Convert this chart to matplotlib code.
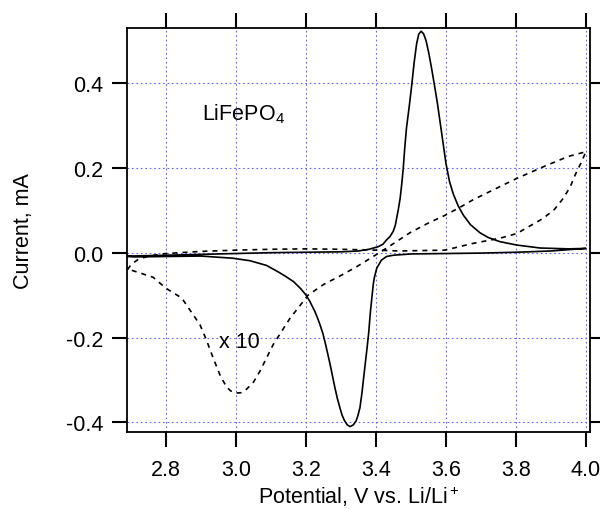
from matplotlib import pyplot as plt

plt.rcParams['font.family'] = ['Liberation Sans', 'DejaVu Sans']
plt.rcParams['mathtext.default'] = 'regular'

# solid CV loop (forward sweep then reverse sweep)
cv_v = [2.69, 2.75, 2.80, 2.90, 3.00, 3.10, 3.20, 3.30, 3.35, 3.38, 3.406, 3.42, 3.43, 3.44,
        3.449, 3.455, 3.459, 3.464, 3.469, 3.474, 3.478, 3.482, 3.487, 3.495, 3.502, 3.509,
        3.516, 3.522, 3.529, 3.536, 3.543, 3.551, 3.559, 3.567, 3.575, 3.588, 3.60, 3.61,
        3.621, 3.635, 3.65, 3.67, 3.697, 3.72, 3.754, 3.802, 3.869, 3.95, 4.00,
        3.90, 3.80, 3.70, 3.60, 3.50, 3.45, 3.43, 3.415, 3.402, 3.395, 3.392, 3.388, 3.384,
        3.379, 3.374, 3.369, 3.364, 3.360, 3.354, 3.348, 3.343, 3.335, 3.326, 3.318, 3.310,
        3.303, 3.297, 3.290, 3.283, 3.276, 3.269, 3.262, 3.255, 3.248, 3.240, 3.232, 3.225,
        3.211, 3.200, 3.185, 3.164, 3.14, 3.120, 3.087, 3.040, 2.990, 2.900, 2.80, 2.71, 2.69]
cv_i = [-0.008, -0.007, -0.006, -0.004, -0.002, 0.000, 0.001, 0.002, 0.004, 0.008, 0.014,
        0.020, 0.030, 0.038, 0.050, 0.064, 0.081, 0.103, 0.128, 0.165, 0.200, 0.245, 0.293,
        0.345, 0.394, 0.448, 0.492, 0.515, 0.522, 0.516, 0.500, 0.470, 0.434, 0.395, 0.355,
        0.280, 0.210, 0.168, 0.138, 0.110, 0.088, 0.066, 0.047, 0.036, 0.026, 0.018, 0.011,
        0.009, 0.010,
        0.004, 0.001, -0.001, -0.002, -0.003, -0.006, -0.009, -0.018, -0.037, -0.060, -0.076,
        -0.108, -0.140, -0.190, -0.228, -0.264, -0.300, -0.330, -0.366, -0.385, -0.397,
        -0.406, -0.410, -0.406, -0.396, -0.383, -0.366, -0.345, -0.320, -0.292, -0.264,
        -0.238, -0.213, -0.190, -0.170, -0.152, -0.138, -0.115, -0.100, -0.085, -0.068,
        -0.055, -0.045, -0.030, -0.019, -0.013, -0.008, -0.009, -0.010, -0.009]

# dashed loop, current x 10
x10_v = [2.69, 2.70, 2.72, 2.75, 2.80, 2.90, 3.00, 3.10, 3.20, 3.30, 3.40, 3.469, 3.597,
         3.678, 3.754, 3.802, 3.878, 3.91, 3.935, 3.955, 3.969, 3.985, 4.00,
         3.95, 3.888, 3.802, 3.74, 3.678, 3.64, 3.597, 3.55, 3.497, 3.44, 3.40, 3.345,
         3.297, 3.25, 3.206, 3.192, 3.154, 3.106, 3.068, 3.05, 3.03, 3.015, 3.00, 2.985,
         2.973, 2.955, 2.935, 2.915, 2.897, 2.845, 2.80, 2.763, 2.70, 2.69]
x10_i = [-0.040, -0.028, -0.016, -0.008, -0.002, 0.003, 0.006, 0.008, 0.009, 0.008, 0.006,
         0.004, 0.006, 0.022, 0.034, 0.045, 0.081, 0.102, 0.128, 0.155, 0.183, 0.210, 0.238,
         0.227, 0.206, 0.175, 0.150, 0.125, 0.107, 0.088, 0.070, 0.047, 0.016, -0.005,
         -0.033, -0.055, -0.075, -0.100, -0.115, -0.155, -0.217, -0.280, -0.305, -0.322,
         -0.330, -0.331, -0.326, -0.317, -0.290, -0.249, -0.205, -0.170, -0.107, -0.084,
         -0.058, -0.041, -0.045]

xticks = [2.8, 3.0, 3.2, 3.4, 3.6, 3.8, 4.0]
yticks = [-0.4, -0.2, 0.0, 0.2, 0.4]

fig = plt.figure(figsize=(6, 5.1), dpi=100)
ax = fig.add_axes([0.212, 0.1516, 0.771, 0.791])

ax.plot(cv_v, cv_i, color='black', lw=1.2)
ax.plot(x10_v, x10_i, color='black', lw=1.2, dashes=(3, 3))

ax.set_xlim(2.689, 4.011)
ax.set_ylim(-0.422, 0.529)
ax.set_xticks(xticks)
ax.set_xticklabels(['%.1f' % t for t in xticks])
ax.set_yticks(yticks)
ax.set_yticklabels(['%.1f' % t for t in yticks])

ax.grid(True, color='#6464ff', linestyle=(0, (1.5, 2.5)), lw=0.8)
ax.set_axisbelow(True)
for s in ax.spines.values():
    s.set_linewidth(1.3)
ax.tick_params(direction='out', length=11, width=1.5, top=True, right=True,
               labelsize=15.5)
ax.tick_params(axis='x', pad=9)
ax.tick_params(axis='y', pad=6)

ax.text(2.902, 0.314, 'LiFePO$_4$', fontsize=15.5, ha='left', va='baseline')
ax.text(2.952, -0.2235, 'x 10', fontsize=15.5, ha='left', va='baseline')

ax.set_xlabel('Potential, V vs. Li/Li$^+$', fontsize=15.5, labelpad=2)
ax.set_ylabel('Current, mA', fontsize=15.5, labelpad=23)

plt.savefig('out.png')
